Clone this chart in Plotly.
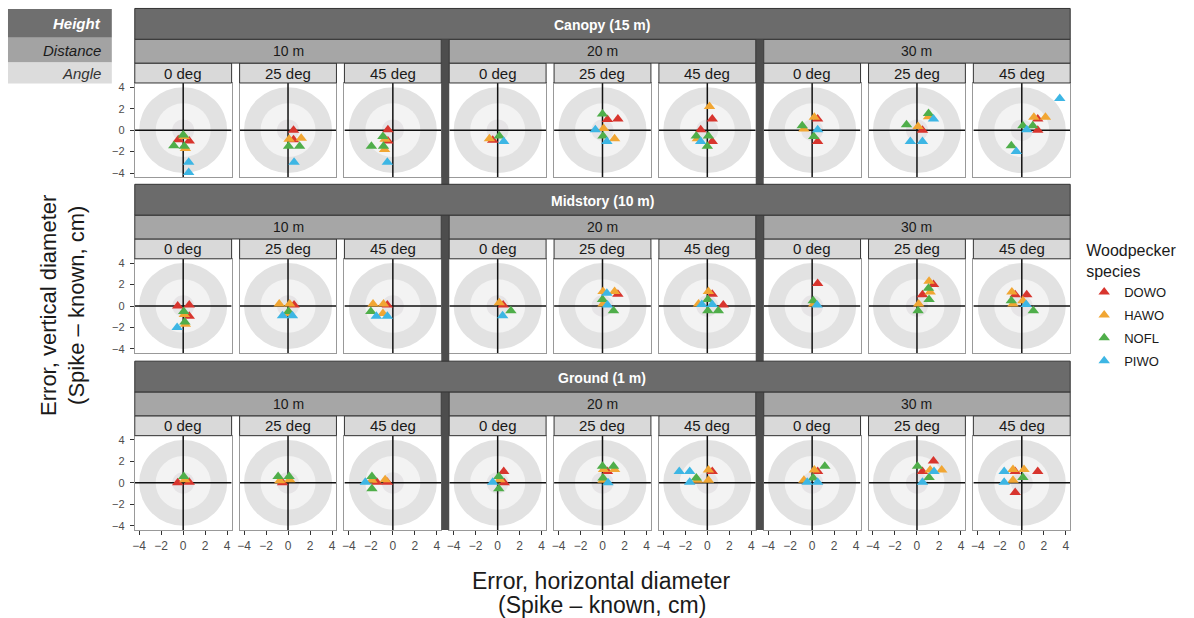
import plotly.graph_objects as go

W, H = 1194, 618
FONT = "Liberation Sans, Arial, Helvetica, sans-serif"

# ---------------- categories / labels ----------------
height_codes = ["C", "M", "G"]
height_labels = ["Canopy (15 m)", "Midstory (10 m)", "Ground (1 m)"]
distance_codes = ["10", "20", "30"]
distance_labels = ["10 m", "20 m", "30 m"]
angle_codes = ["0", "25", "45"]
angle_labels = ["0 deg", "25 deg", "45 deg"]
species = ["DOWO", "HAWO", "NOFL", "PIWO"]
species_colors = ["#d8352e", "#f1a633", "#4fae4a", "#3db6e4"]

tick_vals = [-4, -2, 0, 2, 4]
tick_text = ["\u22124", "\u22122", "0", "2", "4"]
ring_radii = [4, 2.5, 1]
ring_colors = ["#e2e2e2", "#f3f3f3", "#e6e4e6"]

# ---------------- data (panel code = height+distance/angle) ----------------
dowo_panel = ["C10/0", "C10/0", "C10/25", "C10/25", "C10/45", "C10/45", "C20/0",
              "C20/25", "C20/25", "C20/45", "C20/45", "C20/45", "C30/0", "C30/0",
              "C30/25", "C30/45", "C30/45",
              "M10/0", "M10/0", "M10/0", "M10/25", "M10/45", "M20/0", "M20/25",
              "M20/45", "M20/45", "M30/0", "M30/25", "M30/25", "M30/45", "M30/45",
              "G10/0", "G10/0", "G10/25", "G10/45", "G10/45", "G20/0", "G20/0",
              "G20/25", "G20/45", "G30/0", "G30/25", "G30/25", "G30/45", "G30/45", "G30/45"]
dowo_x = [-0.45, 0.55, 0.5, 0.5, -0.45, -0.45, -0.45,
          0.45, 1.4, 0.45, -0.6, 0.45, 0.5, 0.5,
          0.5, 1.45, 1.45,
          -0.5, 0.55, 0.55, 0.55, -0.5, 0.5, 1.4,
          0.45, 1.45, 0.5, 1.5, 0.5, -0.6, 0.45,
          -0.5, 0.55, -0.5, -1.45, -0.5, 0.55, 0.6,
          0.45, 0.45, 0.5, 1.5, 0.5, -0.6, 1.45, -0.6]
dowo_y = [-0.9, -1.0, 0.0, -0.9, 0.05, -1.0, -0.95,
          1.0, 1.05, 1.05, 0.05, -1.05, 1.05, -1.05,
          0.0, 1.05, 0.0,
          0.0, 0.1, -0.95, 0.1, 0.1, 0.1, 1.1,
          1.1, 0.1, 2.1, 2.0, 1.05, 1.05, 1.05,
          0.0, 0.05, 0.0, 0.05, 0.05, 1.05, 0.0,
          1.05, 1.05, 1.05, 2.05, 1.05, 1.05, 1.05, -0.9]

hawo_panel = ["C10/0", "C10/0", "C10/25", "C10/25", "C10/45", "C10/45", "C20/0",
              "C20/25", "C20/25", "C20/45", "C20/45", "C30/0", "C30/0", "C30/25",
              "C30/25", "C30/45", "C30/45",
              "M10/0", "M10/0", "M10/25", "M10/25", "M10/25", "M10/45", "M10/45",
              "M10/45", "M20/0", "M20/25", "M20/25", "M20/25", "M20/45", "M20/45",
              "M30/0", "M30/25", "M30/25", "M30/25", "M30/45", "M30/45", "M30/45",
              "G10/0", "G10/25", "G10/25", "G10/45", "G10/45", "G20/0", "G20/25",
              "G20/25", "G20/25", "G20/45", "G20/45", "G20/45", "G30/0", "G30/0",
              "G30/25", "G30/25", "G30/45", "G30/45", "G30/45"]
hawo_x = [0.1, 0.2, 0.1, 1.2, -0.7, -0.75, -0.75,
          0.1, 1.1, 0.2, -0.9, 0.2, -0.75, 1.05,
          0.1, 2.15, 1.1,
          0.1, 0.2, -0.8, 0.15, 0.15, -1.8, -0.85,
          -0.9, 0.15, 0.05, 1.1, 0.05, 0.1, -0.8,
          0.15, 1.1, 1.2, 0.15, -0.9, 0.1, -0.8,
          0.15, -0.75, 0.15, -1.9, -0.7, 0.2, 0.1,
          1.1, 0.05, 0.1, -0.9, 0.1, 0.2, -0.75,
          1.2, 2.25, -0.8, 0.2, -0.8]
hawo_y = [-0.6, -1.7, -0.85, -0.75, -0.85, -1.8, -0.8,
          0.15, -0.8, 2.2, -0.8, 1.2, 0.1, 1.25,
          0.35, 1.2, 1.2,
          -0.8, -1.7, 0.2, 0.2, -0.7, 0.2, 0.2,
          -0.7, 0.3, 1.35, 1.35, 0.2, 1.35, 0.2,
          0.2, 2.3, 1.3, 0.2, 1.3, 0.5, 0.2,
          0.3, 0.2, 0.3, 0.25, 0.3, 0.3, 1.25,
          1.25, 0.25, 1.2, 0.25, 0.25, 1.2, 0.25,
          1.2, 1.2, 1.25, 1.25, 0.25]

nofl_panel = ["C10/0", "C10/0", "C10/0", "C10/25", "C10/25", "C10/45", "C10/45",
              "C10/45", "C20/0", "C20/25", "C20/25", "C20/45", "C20/45", "C20/45",
              "C30/0", "C30/0", "C30/25", "C30/25", "C30/45", "C30/45", "C30/45",
              "M10/0", "M10/0", "M10/25", "M10/45", "M20/0", "M20/25", "M20/25",
              "M20/45", "M20/45", "M20/45", "M30/0", "M30/25", "M30/25", "M30/25",
              "M30/45", "M30/45",
              "G10/0", "G10/25", "G10/25", "G10/45", "G10/45", "G20/0", "G20/0",
              "G20/25", "G20/25", "G20/25", "G20/45", "G30/0", "G30/0", "G30/25",
              "G30/25", "G30/45"]
nofl_x = [-0.85, 0.1, 0.0, 0.05, 1.05, -0.9, -1.95,
          -0.85, 0.15, 0.0, 0.05, -1.0, 0.1, 0.0,
          -0.9, 0.15, 1.05, -0.95, 0.1, 1.0, -0.95,
          0.05, 0.15, 0.05, -2.0, 1.2, 0.0, 1.0,
          0.05, 0.05, 1.0, 0.1, 1.05, 1.1, 0.1,
          -0.95, 1.05,
          0.05, -0.9, 0.1, -1.9, -1.9, 0.1, 0.1,
          0.0, 1.0, 0.05, -1.0, 1.15, 0.1, 0.05,
          1.1, 0.1]
nofl_y = [-1.45, -1.5, -0.45, -1.5, -1.5, -0.6, -1.5,
          -1.5, -0.55, 1.5, -0.55, -0.55, -0.55, -1.5,
          0.4, -0.6, 1.55, 0.5, 0.4, 0.4, -1.45,
          -0.5, -1.5, -0.5, -0.5, -0.45, 0.6, -0.45,
          0.6, -0.45, -0.45, 0.5, 1.65, 0.6, -0.45,
          0.5, -0.45,
          0.6, 0.6, 0.6, 0.6, -0.55, 0.6, -0.55,
          1.55, 1.55, 0.45, 0.45, 1.55, 0.45, 1.55,
          0.5, 0.5]

piwo_panel = ["C10/0", "C10/0", "C10/25", "C10/45", "C20/0", "C20/25", "C20/25",
              "C20/45", "C30/0", "C30/25", "C30/25", "C30/25", "C30/45", "C30/45",
              "C30/45",
              "M10/0", "M10/25", "M10/25", "M10/45", "M10/45", "M20/0", "M20/25",
              "M20/25", "M20/45", "M20/45", "M30/0", "M30/45",
              "G10/45", "G20/0", "G20/25", "G20/45", "G20/45", "G20/45", "G30/0",
              "G30/0", "G30/25", "G30/25", "G30/45", "G30/45"]
piwo_x = [0.5, 0.5, 0.55, -0.5, 0.55, -0.65, 0.4,
          -0.6, 0.5, 1.5, -0.6, 0.5, 3.45, 0.45,
          -0.5,
          -0.55, -0.5, 0.4, -1.5, -0.5, 0.45, 0.4,
          0.45, -0.5, 0.45, 0.45, 0.4,
          -2.5, -0.45, 0.5, -2.55, -1.6, -1.6, -0.45,
          0.5, 1.55, 0.5, -1.6, -1.6]
piwo_y = [-3.0, -3.95, -3.0, -3.0, -1.05, 0.05, -1.05,
          -1.05, 0.05, 1.05, -1.05, -1.05, 2.95, 0.05,
          -2.0,
          -2.0, -0.9, -0.9, -0.95, -0.95, -0.9, 1.2,
          0.1, 0.15, 0.15, 0.1, 0.15,
          0.05, 0.05, 0.0, 1.05, 1.05, 0.05, 0.05,
          0.05, 1.05, 0.05, 1.05, 0.05]

series = {
    "DOWO": (dowo_panel, dowo_x, dowo_y),
    "HAWO": (hawo_panel, hawo_x, hawo_y),
    "NOFL": (nofl_panel, nofl_x, nofl_y),
    "PIWO": (piwo_panel, piwo_x, piwo_y),
}

# ---------------- geometry (pixels) ----------------
AX_MAX = 4.4
PANEL_W, PANEL_H = 97, 95
X_START, GAP, SEP = 133, 8, 8
row_top = [81.5, 258.5, 436.5]
ANGLE_H, DIST_H, HEIGHT_H = 20, 24, 31

col_left = []
xpos = X_START
for g in range(3):
    for j in range(3):
        col_left.append(xpos)
        xpos += PANEL_W + (GAP if j < 2 else SEP)
RIGHT_EDGE = col_left[-1] + PANEL_W


def px(x):
    return x / W


def py(y):
    return 1 - y / H


def panel_index(code):
    h = height_codes.index(code[0])
    d, a = code[1:].split("/")
    return h * 9 + distance_codes.index(d) * 3 + angle_codes.index(a)


def axis_names(k):
    s = "" if k == 0 else str(k + 1)
    return "x" + s, "y" + s, "xaxis" + s, "yaxis" + s


fig = go.Figure()
layout = {}
shapes = []
annotations = []

# separators between distance groups (drawn first, strips on top)
for g in range(2):
    x0 = col_left[3 * g + 2] + PANEL_W
    shapes.append(dict(type="rect", xref="paper", yref="paper",
                       x0=px(x0), x1=px(x0 + SEP),
                       y0=py(row_top[2] + PANEL_H), y1=py(row_top[0] - DIST_H - ANGLE_H),
                       fillcolor="#4d4d4d", line=dict(width=0), layer="above"))

for k in range(27):
    r, c = divmod(k, 9)
    xa, ya, xk, yk = axis_names(k)
    left = col_left[c]
    top = row_top[r]
    layout[xk] = dict(domain=[px(left), px(left + PANEL_W)], anchor=ya,
                      range=[-AX_MAX, AX_MAX], showgrid=False, zeroline=False,
                      showline=True, mirror=True, linecolor="#999999", linewidth=1,
                      tickvals=tick_vals, ticktext=tick_text,
                      ticks="outside" if r == 2 else "", ticklen=4, tickcolor="#333333",
                      showticklabels=(r == 2), ticklabelstandoff=1,
                      tickfont=dict(size=12, color="#4d4d4d", family=FONT),
                      fixedrange=True)
    layout[yk] = dict(domain=[py(top + PANEL_H), py(top)], anchor=xa,
                      range=[-AX_MAX, AX_MAX], showgrid=False, zeroline=False,
                      showline=True, mirror=True, linecolor="#999999", linewidth=1,
                      tickvals=tick_vals, ticktext=tick_text,
                      ticks="outside" if c == 0 else "", ticklen=4, tickcolor="#333333",
                      showticklabels=(c == 0), ticklabelstandoff=3,
                      tickfont=dict(size=11, color="#4d4d4d", family=FONT),
                      fixedrange=True)
    # target rings
    for rad, col in zip(ring_radii, ring_colors):
        shapes.append(dict(type="circle", xref=xa, yref=ya, x0=-rad, x1=rad,
                           y0=-rad, y1=rad, fillcolor=col, line=dict(width=0),
                           layer="below"))
    # cross hairs (full panel width / height)
    shapes.append(dict(type="line", xref=xa, yref=ya, x0=-AX_MAX, x1=AX_MAX, y0=0, y1=0,
                       line=dict(color="#111111", width=1.5), layer="below"))
    shapes.append(dict(type="line", xref=xa, yref=ya, x0=0, x1=0, y0=-AX_MAX, y1=AX_MAX,
                       line=dict(color="#111111", width=1.5), layer="below"))
    # angle strip
    shapes.append(dict(type="rect", xref="paper", yref="paper",
                       x0=px(left), x1=px(left + PANEL_W),
                       y0=py(top), y1=py(top - ANGLE_H),
                       fillcolor="#d9d9d9", line=dict(color="#333333", width=1), layer="above"))
    annotations.append(dict(x=px(left + PANEL_W / 2), y=py(top - ANGLE_H / 2),
                            xref="paper", yref="paper", text=angle_labels[c % 3],
                            showarrow=False, font=dict(size=15, color="#1a1a1a", family=FONT),
                            xanchor="center", yanchor="middle"))

for r in range(3):
    top = row_top[r]
    # distance strips
    for g in range(3):
        x0 = col_left[3 * g]
        x1 = col_left[3 * g + 2] + PANEL_W
        shapes.append(dict(type="rect", xref="paper", yref="paper",
                           x0=px(x0), x1=px(x1),
                           y0=py(top - ANGLE_H), y1=py(top - ANGLE_H - DIST_H),
                           fillcolor="#a6a6a6", line=dict(color="#333333", width=1),
                           layer="above"))
        annotations.append(dict(x=px((x0 + x1) / 2), y=py(top - ANGLE_H - DIST_H / 2),
                                xref="paper", yref="paper", text=distance_labels[g],
                                showarrow=False,
                                font=dict(size=14, color="#1a1a1a", family=FONT),
                                xanchor="center", yanchor="middle"))
    # height strip
    y_lo = top - ANGLE_H - DIST_H
    shapes.append(dict(type="rect", xref="paper", yref="paper",
                       x0=px(X_START), x1=px(RIGHT_EDGE),
                       y0=py(y_lo), y1=py(y_lo - HEIGHT_H),
                       fillcolor="#6b6b6b", line=dict(color="#333333", width=1),
                       layer="above"))
    annotations.append(dict(x=px((X_START + RIGHT_EDGE) / 2), y=py(y_lo - HEIGHT_H / 2 + 1),
                            xref="paper", yref="paper",
                            text="<b>" + height_labels[r] + "</b>", showarrow=False,
                            font=dict(size=14, color="white", family=FONT),
                            xanchor="center", yanchor="middle"))

# key in the top-left corner
key_rows = [("<b><i>Height</i></b>", "#6f6f6f", "white", 7, 36),
            ("<i>Distance</i>", "#a3a3a3", "#1a1a1a", 36, 61),
            ("<i>Angle</i>", "#dcdcdc", "#333333", 61, 82)]
for txt, fill, fc, y0, y1 in key_rows:
    shapes.append(dict(type="rect", xref="paper", yref="paper", x0=px(6), x1=px(110),
                       y0=py(y1), y1=py(y0), fillcolor=fill, line=dict(width=0)))
    annotations.append(dict(x=px(101), y=py((y0 + y1) / 2), xref="paper", yref="paper",
                            text=txt, showarrow=False, xanchor="right", yanchor="middle",
                            font=dict(size=15, color=fc, family=FONT)))

# axis titles
for txt, yy in [("Error, horizontal diameter", 583), ("(Spike \u2013 known, cm)", 607)]:
    annotations.append(dict(x=px(601), y=py(yy), xref="paper", yref="paper", text=txt,
                            showarrow=False, xanchor="center", yanchor="middle",
                            font=dict(size=23, color="#1a1a1a", family=FONT)))
for txt, xx in [("Error, vertical diameter", 46), ("(Spike \u2013 known, cm)", 74)]:
    annotations.append(dict(x=px(xx), y=py(305), xref="paper", yref="paper", text=txt,
                            showarrow=False, xanchor="center", yanchor="middle",
                            textangle=-90,
                            font=dict(size=22, color="#1a1a1a", family=FONT)))

# data traces
for sp, colr in zip(species, species_colors):
    panels, xs, ys = series[sp]
    by_panel = {}
    for code, xv, yv in zip(panels, xs, ys):
        idx = panel_index(code)
        by_panel.setdefault(idx, ([], []))
        by_panel[idx][0].append(xv)
        by_panel[idx][1].append(yv)
    first = True
    for k in sorted(by_panel):
        xa, ya, _, _ = axis_names(k)
        fig.add_trace(go.Scatter(x=by_panel[k][0], y=by_panel[k][1], xaxis=xa, yaxis=ya,
                                 mode="markers", name=sp, legendgroup=sp,
                                 showlegend=first,
                                 marker=dict(symbol="triangle-up", size=10, color=colr,
                                             line=dict(width=0))))
        first = False

fig.update_layout(
    width=W, height=H, margin=dict(l=0, r=0, t=0, b=0),
    paper_bgcolor="white", plot_bgcolor="white",
    font=dict(family=FONT, color="#1a1a1a"),
    shapes=shapes, annotations=annotations,
    legend=dict(x=px(1084), y=py(235), xanchor="left", yanchor="top",
                title=dict(text="Woodpecker<br>species", font=dict(size=16, family=FONT)),
                font=dict(size=13, family=FONT), tracegroupgap=3,
                bgcolor="rgba(0,0,0,0)", itemwidth=30),
    **layout,
)

fig.write_html("out.html")
